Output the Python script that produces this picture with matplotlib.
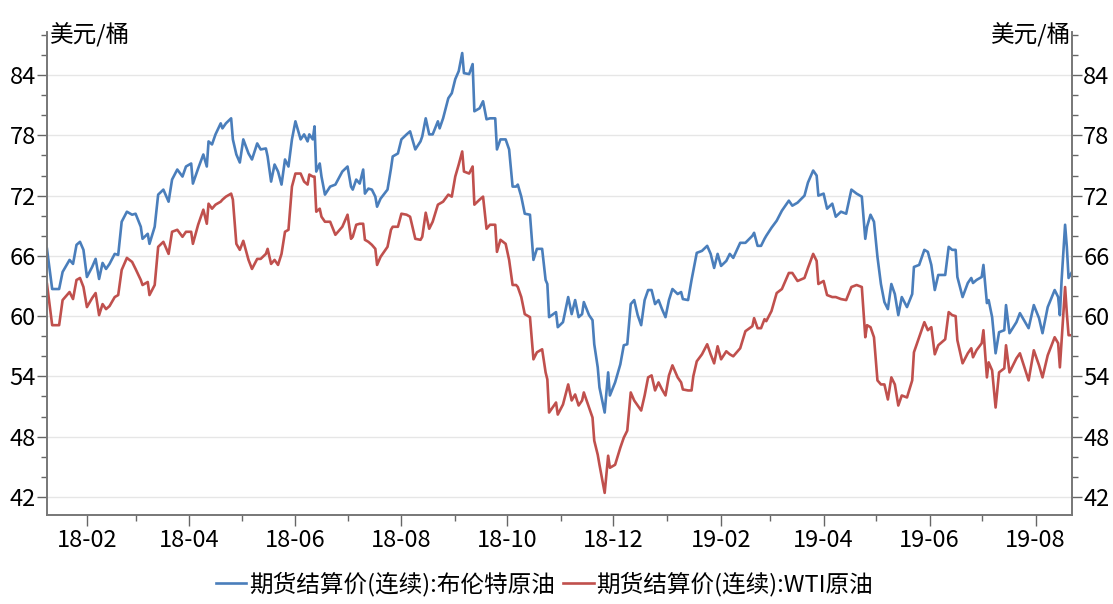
import pandas as pd
import matplotlib
matplotlib.use('Agg')
import matplotlib.pyplot as plt
import matplotlib.dates as mdates
from matplotlib.ticker import MultipleLocator

plt.rcParams['font.family'] = ['Noto Sans CJK SC', 'DejaVu Sans']

# settlement prices, USD/bbl; day = days after 2018-01-09
start = pd.Timestamp('2018-01-09')
day = [0, 3, 7, 9, 13, 15, 17, 19, 21, 23, 26, 28, 30, 32, 34, 36, 39, 41, 43, 46,
       49, 51, 54, 55, 58, 59, 62, 64, 67, 70, 72, 75, 78, 80, 83, 84, 87, 90, 92, 93,
       95, 97, 100, 101, 103, 106, 107, 109, 111, 113, 116, 118, 121, 123, 126, 127, 129, 131, 133, 135,
       137, 139, 141, 143, 146, 148, 150, 151, 153, 154, 155, 157, 158, 160, 163, 166, 170, 173, 175, 176,
       178, 180, 182, 183, 185, 187, 189, 190, 192, 196, 198, 199, 202, 204, 207, 209, 212, 215, 216, 218,
       220, 222, 225, 226, 228, 231, 233, 235, 237, 239, 240, 243, 245, 246, 249, 251, 253, 255, 258, 259,
       261, 264, 266, 268, 270, 271, 273, 275, 278, 280, 282, 285, 287, 288, 289, 293, 294, 297, 300, 302,
       304, 306, 308, 309, 312, 314, 315, 317, 318, 321, 323, 324, 327, 330, 332, 334, 336, 338, 340, 342,
       344, 346, 348, 350, 352, 354, 356, 358, 360, 363, 365, 366, 369, 371, 372, 374, 377, 380, 382, 384,
       386, 388, 391, 393, 395, 399, 402, 406, 407, 409, 411, 413, 414, 417, 420, 423, 427, 429, 432, 436,
       438, 441, 443, 444, 447, 449, 452, 454, 457, 460, 463, 466, 469, 471, 472, 474, 476, 478, 480, 482,
       484, 486, 488, 490, 492, 495, 498, 499, 502, 505, 507, 509, 511, 513, 517, 519, 521, 523, 524, 527,
       530, 532, 533, 535, 538, 539, 541, 542, 544, 546, 548, 551, 552, 554, 558, 560, 565, 568, 571, 573,
       576, 580, 582, 583, 584, 586, 587, 588, 590]

brent = [66.7, 62.7, 62.7, 64.4, 65.6, 65.2, 67.1, 67.4, 66.6, 63.9, 64.9, 65.7, 63.7, 65.3, 64.7, 65.2, 66.2, 66.1, 69.4, 70.4,
         70.1, 70.2, 68.9, 67.7, 68.2, 67.2, 68.9, 72.1, 72.6, 71.4, 73.6, 74.6, 73.9, 74.9, 75.2, 73.2, 74.7, 76.1, 74.9, 77.4,
         77.1, 78.1, 79.2, 78.7, 79.2, 79.7, 77.6, 76.1, 75.3, 77.6, 76.2, 75.6, 77.2, 76.6, 76.7, 75.9, 73.4, 75.1, 74.4, 73.1,
         75.6, 74.9, 77.6, 79.4, 77.6, 78.1, 77.4, 78.1, 77.6, 78.9, 74.4, 75.2, 73.9, 72.1, 72.9, 73.1, 74.4, 74.9, 72.9, 72.6,
         73.6, 73.2, 74.6, 72.2, 72.7, 72.6, 71.9, 70.9, 71.7, 72.6, 74.7, 75.9, 76.2, 77.6, 78.1, 78.4, 76.6, 77.4, 77.9, 79.7,
         78.1, 78.1, 79.4, 78.7, 79.7, 81.7, 82.2, 83.6, 84.4, 86.2, 84.2, 84.1, 85.1, 80.4, 80.7, 81.4, 79.6, 79.7, 79.7, 76.6,
         77.6, 77.6, 76.6, 72.9, 72.9, 73.1, 71.9, 70.2, 70.1, 65.6, 66.7, 66.7, 63.6, 63.2, 59.9, 60.4, 58.9, 59.4, 61.9, 60.2,
         61.6, 59.9, 60.2, 61.4, 60.1, 59.6, 57.2, 54.9, 52.9, 50.4, 54.4, 52.1, 53.4, 55.2, 57.1, 57.2, 61.2, 61.6, 60.1, 59.1,
         61.6, 62.6, 62.6, 61.2, 61.6, 60.7, 59.9, 61.6, 62.7, 62.2, 62.4, 61.7, 61.6, 63.6, 64.5, 66.3, 66.5, 67.0, 66.2, 64.8,
         66.2, 65.0, 65.5, 66.2, 65.8, 67.3, 67.3, 68.0, 68.3, 67.0, 67.0, 67.7, 68.0, 68.8, 69.5, 70.5, 71.5, 71.0, 71.3, 72.0,
         73.3, 74.5, 74.0, 72.0, 72.2, 70.7, 71.2, 69.9, 70.4, 70.2, 72.6, 72.2, 71.9, 67.7, 68.9, 70.1, 69.4, 65.9, 63.2, 61.4,
         60.7, 63.2, 62.2, 60.1, 61.9, 60.9, 62.2, 64.9, 65.1, 66.6, 66.4, 65.1, 62.6, 64.1, 64.1, 66.9, 66.6, 66.6, 63.9, 61.9,
         63.3, 63.8, 63.3, 63.6, 63.9, 65.1, 61.3, 61.6, 59.9, 56.3, 58.4, 58.6, 61.1, 58.3, 59.4, 60.3, 58.8, 61.1, 59.8, 58.3,
         60.9, 62.6, 61.9, 60.1, 63.6, 69.1, 66.9, 63.8, 64.4]

wti = [63.2, 59.1, 59.1, 61.6, 62.4, 61.7, 63.6, 63.8, 62.9, 60.9, 61.8, 62.3, 60.1, 61.2, 60.7, 61.0, 61.9, 62.1, 64.6, 65.8,
       65.4, 64.7, 63.6, 63.1, 63.4, 62.1, 63.1, 66.9, 67.4, 66.2, 68.4, 68.6, 67.9, 68.4, 68.4, 67.2, 69.1, 70.6, 69.2, 71.2,
       70.7, 71.1, 71.4, 71.6, 71.9, 72.2, 71.6, 67.2, 66.6, 67.5, 65.6, 64.7, 65.7, 65.7, 66.2, 66.7, 65.2, 65.6, 65.1, 66.2,
       68.4, 68.6, 72.9, 74.2, 74.2, 73.4, 73.1, 74.1, 73.9, 73.9, 70.4, 70.7, 69.9, 69.4, 69.4, 68.1, 68.9, 70.1, 67.7, 67.9,
       69.1, 69.2, 69.2, 67.6, 67.4, 67.1, 66.7, 65.1, 65.9, 66.9, 68.6, 68.9, 68.9, 70.2, 70.1, 69.9, 67.7, 67.6, 67.9, 70.3,
       68.7, 69.4, 71.1, 71.2, 71.4, 72.1, 71.9, 73.9, 75.1, 76.4, 74.4, 74.2, 74.9, 71.1, 71.6, 71.9, 68.7, 69.1, 69.1, 66.4,
       67.6, 67.2, 65.6, 63.1, 63.1, 62.9, 61.9, 60.2, 59.9, 55.7, 56.4, 56.7, 54.4, 53.7, 50.4, 51.4, 50.2, 51.2, 53.2, 51.6,
       52.2, 51.1, 51.6, 52.4, 50.9, 49.9, 47.6, 46.2, 45.2, 42.4, 46.1, 44.9, 45.2, 46.9, 47.9, 48.6, 52.4, 51.6, 51.1, 50.6,
       52.1, 53.9, 54.1, 52.6, 53.4, 52.7, 52.1, 54.1, 55.1, 53.9, 53.4, 52.7, 52.6, 52.6, 54.0, 55.5, 56.2, 57.2, 56.2, 55.3,
       57.0, 55.7, 56.5, 56.2, 56.0, 56.8, 58.5, 59.0, 59.8, 58.8, 58.8, 59.7, 59.5, 60.5, 62.3, 62.7, 64.3, 64.3, 63.5, 63.8,
       64.8, 66.2, 65.5, 63.2, 63.5, 62.1, 61.9, 61.9, 61.7, 61.6, 62.9, 63.1, 62.9, 57.9, 59.1, 58.9, 57.9, 53.6, 53.2, 53.2,
       51.7, 53.9, 53.2, 51.1, 52.1, 51.9, 53.6, 56.4, 57.9, 59.4, 58.6, 58.9, 56.2, 57.1, 57.7, 60.4, 60.1, 60.0, 57.6, 55.3,
       56.3, 56.8, 55.9, 56.6, 57.3, 58.6, 53.9, 55.4, 54.6, 50.9, 54.4, 54.8, 57.1, 54.4, 55.8, 56.3, 53.6, 56.6, 55.1, 53.9,
       56.1, 57.9, 57.3, 54.9, 57.6, 62.9, 60.3, 58.1, 58.1]

labels = ['期货结算价(连续):布伦特原油', '期货结算价(连续):WTI原油']
colors = ['#4a7ebb', '#c0504d']
unit = '美元/桶'

dates = start + pd.to_timedelta(day, unit='D')

fig = plt.figure(figsize=(11.13, 6.04), dpi=100)
ax = fig.add_axes([0.0422, 0.1474, 0.9210, 0.7997])
ax2 = ax.twinx()

l1, = ax.plot(dates, brent, color=colors[0], lw=1.9)
l2, = ax.plot(dates, wti, color=colors[1], lw=1.9)

ylim = (40.2, 88.3)
for a in (ax, ax2):
    a.set_ylim(*ylim)
    a.yaxis.set_major_locator(MultipleLocator(6))
    a.yaxis.set_minor_locator(MultipleLocator(2))
    a.tick_params(axis='y', which='major', length=7, width=1, color='#666666',
                  labelsize=17, pad=1)
    a.tick_params(axis='y', which='minor', length=4, width=1, color='#666666')
    a.spines['top'].set_visible(False)
    for s in ('left', 'right', 'bottom'):
        a.spines[s].set_color('#777777')
        a.spines[s].set_linewidth(1.2)

ax.set_yticks(range(42, 85, 6))
ax2.set_yticks(range(42, 85, 6))
ax.yaxis.grid(True, which='major', color='#e6e6e6', lw=1)
ax.set_axisbelow(True)

ax.set_xlim(dates[0], dates[-1])
ax.xaxis.set_major_locator(mdates.MonthLocator(bymonth=[2, 4, 6, 8, 10, 12]))
ax.xaxis.set_minor_locator(mdates.MonthLocator())
ax.xaxis.set_major_formatter(mdates.DateFormatter('%y-%m'))
ax.tick_params(axis='x', which='major', length=8, width=1, color='#666666',
               labelsize=17, pad=2)
ax.tick_params(axis='x', which='minor', length=4, width=1, color='#666666')

fig.text(0.045, 0.922, unit, fontsize=17, ha='left', va='bottom')
fig.text(0.962, 0.922, unit, fontsize=17, ha='right', va='bottom')

fig.legend([l1, l2], labels, loc='lower center', bbox_to_anchor=(0.489, -0.022),
           ncol=2, frameon=False, fontsize=17, handlelength=1.3,
           handletextpad=0.1, columnspacing=0.35)

fig.savefig('out.png', dpi=100)
